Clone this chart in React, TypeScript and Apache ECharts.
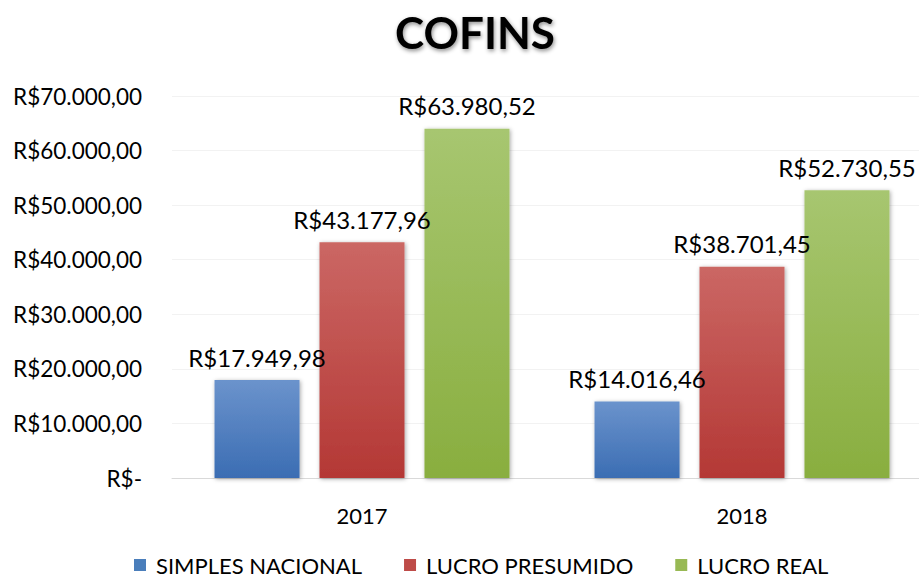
import React, { useEffect, useRef } from "react";
import * as echarts from "echarts";

const title = "COFINS";
const categories = ["2017", "2018"];
const seriesNames = ["SIMPLES NACIONAL", "LUCRO PRESUMIDO", "LUCRO REAL"];
const simplesNacional = [17949.98, 14016.46];
const lucroPresumido = [43177.96, 38701.45];
const lucroReal = [63980.52, 52730.55];
const yTicks = [0, 10000, 20000, 30000, 40000, 50000, 60000, 70000];

const FONT = "Lato";

function fmtBRL(v: number): string {
  if (v === 0) return "R$-";
  const [intPart, dec] = v.toFixed(2).split(".");
  const withDots = intPart.replace(/\B(?=(\d{3})+(?!\d))/g, ".");
  return "R$" + withDots + "," + dec;
}

const grad = (top: string, bottom: string) =>
  new echarts.graphic.LinearGradient(0, 0, 0, 1, [
    { offset: 0, color: top },
    { offset: 1, color: bottom },
  ]);

export default function App() {
  const ref = useRef<HTMLDivElement>(null);
  useEffect(() => {
    if (!ref.current) return;
    const chart = echarts.init(ref.current, undefined, { renderer: "svg" });
    const colors = [
      ["#6b93cc", "#3b6db3"],
      ["#cb6764", "#b43835"],
      ["#a7c670", "#89ae3f"],
    ];
    const legendColors = ["#4a7ebb", "#be4b48", "#98b954"];
    const dataSets = [simplesNacional, lucroPresumido, lucroReal];
    chart.setOption({
      animation: false,
      backgroundColor: "#ffffff",
      title: {
        text: title,
        left: 470,
        textAlign: "center",
        top: 5,
        textStyle: {
          fontFamily: FONT,
          fontWeight: "bold",
          fontSize: 44,
          color: "#000",
          textShadowColor: "rgba(0,0,0,0.45)",
          textShadowBlur: 4,
          textShadowOffsetX: 1,
          textShadowOffsetY: 2,
        },
      },
      legend: {
        bottom: -2,
        left: 129,
        itemWidth: 12,
        itemHeight: 12,
        itemGap: 42,
        icon: "rect",
        data: seriesNames.map((n, i) => ({ name: n, itemStyle: { color: legendColors[i] } })),
        textStyle: { fontFamily: FONT, fontSize: 22, color: "#000", padding: [0, 0, 0, 5] },
      },
      grid: { left: 172, right: 0, top: 96, bottom: 101, containLabel: false },
      xAxis: {
        type: "category",
        data: categories,
        axisLine: { lineStyle: { color: "#d9d9d9", width: 1 } },
        axisTick: { show: false },
        axisLabel: { fontFamily: FONT, fontSize: 22, color: "#000", margin: 26 },
      },
      yAxis: {
        type: "value",
        min: 0,
        max: 70000,
        interval: 10000,
        axisLine: { show: false },
        axisTick: { show: false },
        splitLine: { lineStyle: { color: "#f2f2f2", width: 1 } },
        axisLabel: {
          fontFamily: FONT,
          fontSize: 22.5,
          color: "#000",
          margin: 30,
          formatter: (v: number) => (yTicks.includes(v) ? fmtBRL(v) : ""),
        },
      },
      series: seriesNames.map((name, i) => ({
        name,
        type: "bar",
        data: dataSets[i],
        barWidth: 85,
        barGap: "23.5%",
        itemStyle: {
          color: grad(colors[i][0], colors[i][1]),
          shadowColor: "rgba(0,0,0,0.35)",
          shadowBlur: 4,
          shadowOffsetX: 1,
          shadowOffsetY: 1,
        },
        label: {
          show: true,
          position: "top",
          distance: 11,
          fontFamily: FONT,
          fontSize: 24,
          color: "#000",
          formatter: (p: any) => fmtBRL(p.value),
        },
      })),
    });
    return () => chart.dispose();
  }, []);
  return (
    <div style={{ width: 919, height: 579, position: "absolute", left: 0, top: 0, overflow: "hidden" }}>
      <div ref={ref} style={{ width: 932, height: 579 }} />
    </div>
  );
}
